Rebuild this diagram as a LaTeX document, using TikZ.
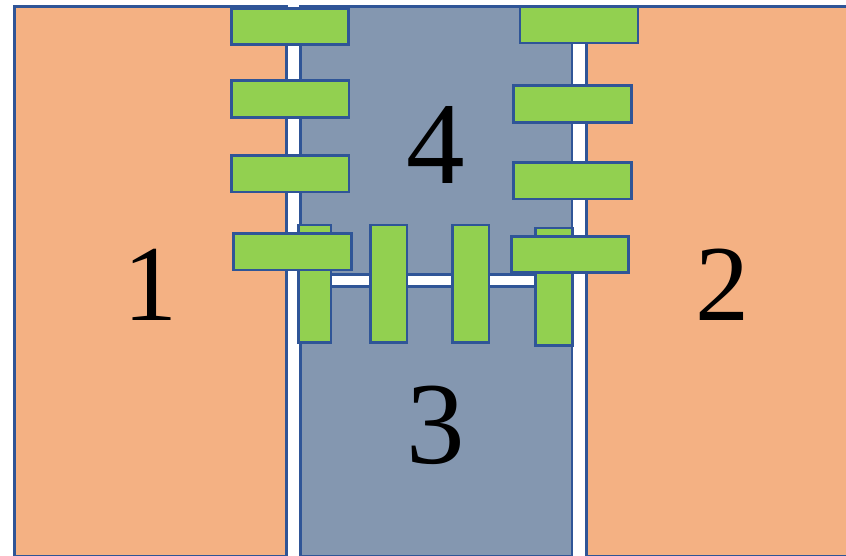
\documentclass[tikz,border=0pt]{standalone}
\usepackage{fontspec}
\setmainfont{Liberation Serif}
\tikzset{
  x=1pt,y=-1pt,
  shp/.style={draw=edgeblue,line width=2.6pt,line join=miter},
  block/.style={shp,fill=orangefill},
  midblock/.style={shp,fill=greyblue},
  tab/.style={shp,fill=tabgreen},
  digit/.style={anchor=base,inner sep=0pt,font=\fontsize{108}{108}\selectfont,text=black},
  bigdigit/.style={anchor=base,inner sep=0pt,font=\fontsize{117}{117}\selectfont,text=black},
}
\definecolor{edgeblue}{HTML}{2F5597}
\definecolor{orangefill}{HTML}{F4B183}
\definecolor{greyblue}{HTML}{8497B0}
\definecolor{tabgreen}{HTML}{92D050}
\begin{document}
\begin{tikzpicture}
\useasboundingbox (0,0) rectangle (846,555);
\clip (0,0) rectangle (846,555);
\fill[white] (0,0) rectangle (846,555);
% large blocks
\draw[block] (14.5,6.5) rectangle (286.3,556);
\draw[block] (586.3,6.5) rectangle (852,556);
\draw[midblock] (300.3,286.6) rectangle (572,556);
\draw[midblock] (300.3,6.5) rectangle (572,274.7);
% vertical tabs
\draw[tab] (298.3,225) rectangle (331,342.7);
\draw[tab] (370.3,225) rectangle (407,342.7);
\draw[tab] (452.3,225) rectangle (489,342.7);
\draw[tab] (535.5,228) rectangle (572.7,345.3);
% horizontal tabs, left
\draw[tab] (231.3,8.3) rectangle (348.7,44.7);
\draw[tab] (231.3,80.2) rectangle (349,117.2);
\draw[tab] (231.3,155.2) rectangle (349,191.8);
\draw[tab] (233.3,233.3) rectangle (351.7,270);
% horizontal tabs, right
\draw[tab] (520,6.5) rectangle (637.8,43);
\draw[tab] (513.7,85.5) rectangle (631.7,122.2);
\draw[tab] (513.7,162.2) rectangle (631.7,198.8);
\draw[tab] (511.3,236.2) rectangle (628.7,272.7);
% labels
\node[digit] (n1) at (150,320) {1};
\node[digit] (n2) at (722,320) {2};
\node[bigdigit] (n3) at (435.5,463.5) {3};
\node[bigdigit] (n4) at (435.5,183.3) {4};
\end{tikzpicture}
\end{document}
